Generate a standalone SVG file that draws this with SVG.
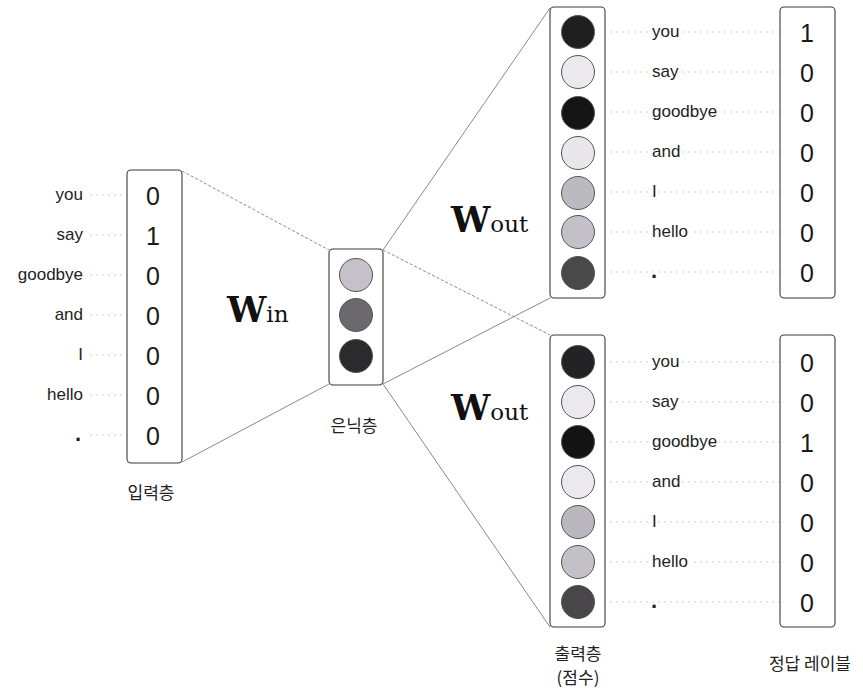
<svg xmlns="http://www.w3.org/2000/svg" width="863" height="691" viewBox="0 0 863 691">
<style>
.box{fill:#fff;stroke:#3a3a3a;stroke-width:1.1}
.node{stroke:#555;stroke-width:1}
.guide{stroke:#cfcfcf;stroke-width:1;stroke-dasharray:2 4}
.conn{stroke:#8a8a8a;stroke-width:1;fill:none}
.dash{stroke-dasharray:3 2}
.word{font-family:"Liberation Sans",Arial,sans-serif;font-size:17px;fill:#222;paint-order:stroke;stroke:#fff;stroke-width:4px}
.dot{font-weight:bold;font-size:22px}
.dig{font-family:"Liberation Sans",Arial,sans-serif;font-size:25px;fill:#1a1a1a;text-anchor:middle}
.kr{font-family:"Noto Sans CJK KR","Noto Sans",sans-serif;font-size:17px;fill:#222;text-anchor:middle}
.w{font-family:"DejaVu Serif","Liberation Serif",serif;fill:#111}
.wb{font-weight:bold;font-size:35px}
.ws{font-size:23px}
</style>
<rect width="863" height="691" fill="#fff"/>

<g id="connectors">
  <line class="conn dash" x1="182" y1="171" x2="329" y2="250"/>
  <line class="conn" x1="182" y1="462" x2="329" y2="384"/>
  <line class="conn" x1="383" y1="250" x2="550" y2="8"/>
  <line class="conn dash" x1="383" y1="250" x2="550" y2="335"/>
  <line class="conn" x1="383" y1="384" x2="550" y2="298"/>
  <line class="conn" x1="383" y1="384" x2="550" y2="627"/>
</g>

<g id="input-layer">
  <g class="guides">
    <line class="guide" x1="90" y1="195" x2="127" y2="195"/>
    <line class="guide" x1="90" y1="235" x2="127" y2="235"/>
    <line class="guide" x1="90" y1="275" x2="127" y2="275"/>
    <line class="guide" x1="90" y1="315" x2="127" y2="315"/>
    <line class="guide" x1="90" y1="355" x2="127" y2="355"/>
    <line class="guide" x1="90" y1="395" x2="127" y2="395"/>
    <line class="guide" x1="90" y1="435" x2="127" y2="435"/>
  </g>
  <rect class="box" x="127" y="170" width="55" height="293" rx="4"/>
  <g text-anchor="end">
    <text class="word" x="83" y="200">you</text>
    <text class="word" x="83" y="240">say</text>
    <text class="word" x="83" y="280">goodbye</text>
    <text class="word" x="83" y="320">and</text>
    <text class="word" x="83" y="360">I</text>
    <text class="word" x="83" y="400">hello</text>
    <text class="word dot" x="81" y="441">.</text>
  </g>
  <text class="dig" x="153" y="205">0</text>
  <text class="dig" x="153" y="245">1</text>
  <text class="dig" x="153" y="285">0</text>
  <text class="dig" x="153" y="325">0</text>
  <text class="dig" x="153" y="365">0</text>
  <text class="dig" x="153" y="405">0</text>
  <text class="dig" x="153" y="445">0</text>
  <text class="kr" x="151" y="499">입력층</text>
</g>

<g id="w-in">
  <text class="w" x="227" y="322"><tspan class="wb">W</tspan><tspan class="ws">in</tspan></text>
</g>

<g id="hidden-layer">
  <rect class="box" x="329" y="249" width="54" height="136" rx="4"/>
  <circle class="node" cx="356" cy="275" r="16.5" fill="#c5c0c9"/>
  <circle class="node" cx="356" cy="315" r="16.5" fill="#6b696d"/>
  <circle class="node" cx="356" cy="356" r="16.5" fill="#2b2a2c"/>
  <text class="kr" x="354" y="432">은닉층</text>
</g>

<g id="w-out-upper">
  <text class="w" x="451" y="232"><tspan class="wb">W</tspan><tspan class="ws">out</tspan></text>
</g>
<g id="w-out-lower">
  <text class="w" x="451" y="420"><tspan class="wb">W</tspan><tspan class="ws">out</tspan></text>
</g>

<g id="output-upper">
  <g class="guides">
    <line class="guide" x1="598" y1="32" x2="780" y2="32"/>
    <line class="guide" x1="598" y1="72" x2="780" y2="72"/>
    <line class="guide" x1="598" y1="112" x2="780" y2="112"/>
    <line class="guide" x1="598" y1="152" x2="780" y2="152"/>
    <line class="guide" x1="598" y1="192" x2="780" y2="192"/>
    <line class="guide" x1="598" y1="232" x2="780" y2="232"/>
    <line class="guide" x1="598" y1="272" x2="780" y2="272"/>
  </g>
  <rect class="box" x="550" y="7" width="55" height="291" rx="4"/>
  <circle class="node" cx="578" cy="32" r="16.5" fill="#1f1e20"/>
  <circle class="node" cx="578" cy="72" r="16.5" fill="#ebe8ee"/>
  <circle class="node" cx="578" cy="113" r="16.5" fill="#161516"/>
  <circle class="node" cx="578" cy="153" r="16.5" fill="#e9e6ec"/>
  <circle class="node" cx="578" cy="193" r="16.5" fill="#bdb9c1"/>
  <circle class="node" cx="578" cy="232" r="16.5" fill="#c4c0c8"/>
  <circle class="node" cx="578" cy="273" r="16.5" fill="#4a484b"/>
  <text class="word" x="652" y="37">you</text>
  <text class="word" x="652" y="77">say</text>
  <text class="word" x="652" y="117">goodbye</text>
  <text class="word" x="652" y="157">and</text>
  <text class="word" x="652" y="197">I</text>
  <text class="word" x="652" y="237">hello</text>
  <text class="word dot" x="651" y="278">.</text>
</g>

<g id="label-upper">
  <rect class="box" x="780" y="7" width="55" height="291" rx="4"/>
  <text class="dig" x="807" y="42">1</text>
  <text class="dig" x="807" y="82">0</text>
  <text class="dig" x="807" y="122">0</text>
  <text class="dig" x="807" y="162">0</text>
  <text class="dig" x="807" y="202">0</text>
  <text class="dig" x="807" y="242">0</text>
  <text class="dig" x="807" y="282">0</text>
</g>

<g id="output-lower">
  <g class="guides">
    <line class="guide" x1="598" y1="362" x2="780" y2="362"/>
    <line class="guide" x1="598" y1="402" x2="780" y2="402"/>
    <line class="guide" x1="598" y1="442" x2="780" y2="442"/>
    <line class="guide" x1="598" y1="482" x2="780" y2="482"/>
    <line class="guide" x1="598" y1="522" x2="780" y2="522"/>
    <line class="guide" x1="598" y1="562" x2="780" y2="562"/>
    <line class="guide" x1="598" y1="602" x2="780" y2="602"/>
  </g>
  <rect class="box" x="550" y="335" width="55" height="292" rx="4"/>
  <circle class="node" cx="578" cy="362" r="16.5" fill="#232224"/>
  <circle class="node" cx="578" cy="402" r="16.5" fill="#ebe8ee"/>
  <circle class="node" cx="578" cy="442" r="16.5" fill="#151415"/>
  <circle class="node" cx="578" cy="482" r="16.5" fill="#ebe8ee"/>
  <circle class="node" cx="578" cy="522" r="16.5" fill="#bbb7bf"/>
  <circle class="node" cx="578" cy="562" r="16.5" fill="#c4c0c8"/>
  <circle class="node" cx="578" cy="602" r="16.5" fill="#484649"/>
  <text class="word" x="652" y="367">you</text>
  <text class="word" x="652" y="407">say</text>
  <text class="word" x="652" y="447">goodbye</text>
  <text class="word" x="652" y="487">and</text>
  <text class="word" x="652" y="527">I</text>
  <text class="word" x="652" y="567">hello</text>
  <text class="word dot" x="651" y="608">.</text>
  <text class="kr" x="578" y="660">출력층</text>
  <text class="kr" x="578" y="684">(점수)</text>
</g>

<g id="label-lower">
  <rect class="box" x="780" y="335" width="55" height="292" rx="4"/>
  <text class="dig" x="807" y="372">0</text>
  <text class="dig" x="807" y="412">0</text>
  <text class="dig" x="807" y="452">1</text>
  <text class="dig" x="807" y="492">0</text>
  <text class="dig" x="807" y="532">0</text>
  <text class="dig" x="807" y="572">0</text>
  <text class="dig" x="807" y="612">0</text>
  <text class="kr" x="810" y="670">정답 레이블</text>
</g>
</svg>
